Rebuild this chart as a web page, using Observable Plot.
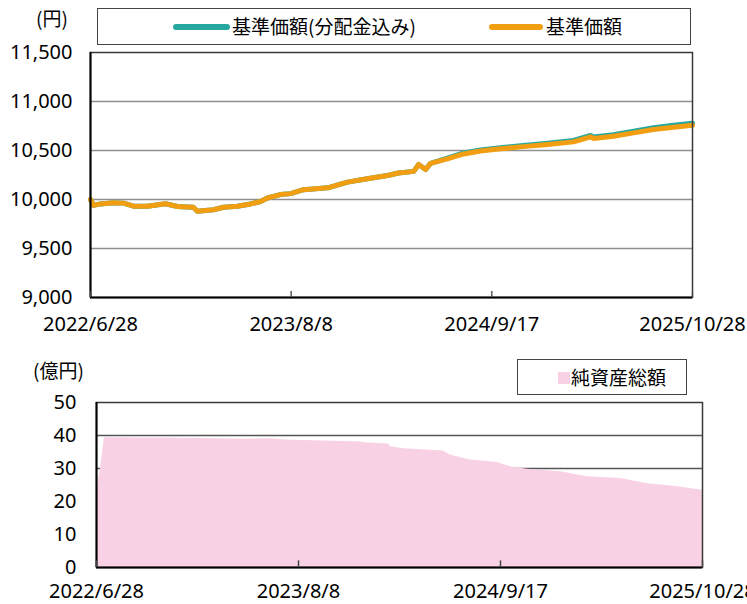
<!DOCTYPE html>
<html>
<head>
<meta charset="utf-8">
<script src="https://cdn.jsdelivr.net/npm/d3@7"></script>
<script src="https://cdn.jsdelivr.net/npm/@observablehq/plot@0.6"></script>
<style>
  html, body { margin: 0; padding: 0; background: #fff; overflow: hidden; }
  #wrap { position: relative; width: 747px; height: 604px; font-family: "Noto Sans", "Noto Sans CJK JP", sans-serif; color: #000; }
  .abs { position: absolute; }
  .lbl { position: absolute; font-size: 19px; line-height: 22px; white-space: nowrap; font-family: "Noto Sans CJK JP", "Noto Sans", sans-serif; }
  .box { position: absolute; border: 1px solid #444; background: #fff; box-sizing: border-box; }
  svg { position: absolute; left: 0; overflow: visible; }
</style>
</head>
<body>
<div id="wrap"></div>
<script>
// ---- data ----
const navDates = ["2022-06-28","2022-07-04","2022-07-18","2022-08-14","2022-09-03","2022-09-23","2022-10-21","2022-11-27","2022-12-21","2023-01-22","2023-01-30","2023-03-04","2023-03-24","2023-04-21","2023-05-18","2023-06-07","2023-06-21","2023-07-17","2023-08-07","2023-09-02","2023-10-21","2023-11-30","2024-01-09","2024-02-19","2024-03-12","2024-04-12","2024-04-22","2024-05-06","2024-05-16","2024-06-19","2024-07-22","2024-08-25","2024-10-05","2024-11-14","2025-01-08","2025-03-01","2025-04-05","2025-04-11","2025-05-21","2025-07-01","2025-08-10","2025-09-20","2025-10-28"];
const navValues = [10000,9940,9955,9966,9963,9932,9932,9956,9929,9921,9881,9895,9921,9932,9955,9980,10015,10050,10060,10100,10119,10177,10211,10245,10270,10287,10357,10306,10368,10415,10465,10494,10517,10537,10561,10588,10639,10622,10646,10680,10714,10738,10758];
const navReinvValues = [10000,9940,9955,9966,9963,9932,9932,9956,9929,9921,9881,9895,9921,9932,9955,9980,10015,10050,10060,10100,10119,10177,10211,10245,10270,10287,10357,10306,10368,10422,10475,10505,10528,10549,10574,10602,10654,10637,10662,10697,10732,10757,10778];

const aumDates = ["2022-06-28","2022-07-06","2022-07-14","2022-12-14","2023-04-27","2023-06-13","2023-07-13","2023-12-11","2023-12-17","2024-02-05","2024-02-09","2024-03-06","2024-05-25","2024-06-08","2024-07-18","2024-09-11","2024-10-07","2024-11-10","2025-01-16","2025-03-11","2025-05-16","2025-07-10","2025-08-31","2025-10-28"];
const aumValues = [23.2,30.0,39.3,39.2,38.9,39.0,38.6,38.0,37.8,37.4,36.6,36.0,35.3,34.1,32.6,31.8,30.5,29.8,29.0,27.5,27.0,25.4,24.6,23.4];

const xTickLabels = ["2022-06-28","2023-08-08","2024-09-17","2025-10-28"];
const yTicksTop = [9000,9500,10000,10500,11000,11500];
const yTicksBottom = [0,10,20,30,40,50];

const seriesNames = ["基準価額(分配金込み)","基準価額"];
const aumName = "純資産総額";

// ---- styles ----
const teal = "#27a89f";
const orange = "#f29e12";
const pink = "#f8d1e4";

const parse = s => new Date(s + "T00:00:00Z");
const xTicks = xTickLabels.map(parse);
const fmtDate = d => `${d.getUTCFullYear()}/${d.getUTCMonth()+1}/${d.getUTCDate()}`;
const navRows = navDates.map((d,i) => ({date: parse(d), nav: navValues[i], reinv: navReinvValues[i]}));
const aumRows = aumDates.map((d,i) => ({date: parse(d), aum: aumValues[i]}));
const xDomain = [xTicks[0], xTicks[xTicks.length-1]];

const baseStyle = {fontFamily: "'Noto Sans', sans-serif", fontSize: "20px", color: "#000", background: "transparent", overflow: "visible"};

const topChart = Plot.plot({
  width: 747, height: 340,
  marginTop: 52, marginBottom: 43, marginLeft: 90, marginRight: 55,
  style: baseStyle,
  x: {type: "utc", domain: xDomain},
  y: {domain: [9000, 11500]},
  marks: [
    Plot.ruleY(yTicksTop.slice(1, -1), {stroke: "#8f8f8f", strokeWidth: 1.4}),
    Plot.line(navRows, {x: "date", y: "reinv", stroke: teal, strokeWidth: 5, strokeLinejoin: "round"}),
    Plot.line(navRows, {x: "date", y: "nav", stroke: orange, strokeWidth: 5, strokeLinejoin: "round"}),
    Plot.frame({stroke: "#3a3a3a", strokeWidth: 1.5}),
    Plot.ruleX([xDomain[0]], {stroke: "#000", strokeWidth: 2}),
    Plot.ruleY([9000], {stroke: "#000", strokeWidth: 2}),
    Plot.ruleX(xTicks, {y1: 9000, y2: 9060, stroke: "#444", strokeWidth: 1.3}),
    Plot.axisX({ticks: xTicks, tickFormat: fmtDate, tickSize: 0, tickPadding: 19, label: null}),
    Plot.axisY({ticks: yTicksTop, tickFormat: d3.format(","), tickSize: 0, tickPadding: 18, label: null})
  ]
});
topChart.style.top = "0px";

const bottomChart = Plot.plot({
  width: 747, height: 264,
  marginTop: 62, marginBottom: 37, marginLeft: 96, marginRight: 45,
  style: baseStyle,
  x: {type: "utc", domain: xDomain},
  y: {domain: [0, 50]},
  marks: [
    Plot.ruleY(yTicksBottom.slice(1, -1), {stroke: "#555", strokeWidth: 1.4}),
    Plot.areaY(aumRows, {x: "date", y: "aum", fill: pink}),
    Plot.frame({stroke: "#3a3a3a", strokeWidth: 1.5}),
    Plot.ruleX([xDomain[0]], {stroke: "#000", strokeWidth: 2}),
    Plot.ruleY([0], {stroke: "#000", strokeWidth: 2}),
    Plot.ruleX(xTicks, {y1: 0, y2: 2, stroke: "#444", strokeWidth: 1.5}),
    Plot.axisX({ticks: xTicks, tickFormat: fmtDate, tickSize: 0, tickPadding: 16, label: null}),
    Plot.axisY({ticks: yTicksBottom, tickSize: 0, tickPadding: 20, label: null})
  ]
});
bottomChart.style.top = "340px";

const wrap = document.getElementById("wrap");
wrap.appendChild(topChart);
wrap.appendChild(bottomChart);

function el(tag, cls, css, text) {
  const e = document.createElement(tag);
  if (cls) e.className = cls;
  Object.assign(e.style, css);
  if (text != null) e.textContent = text;
  return e;
}

// unit labels
wrap.appendChild(el("div", "lbl", {left: "36px", top: "7px"}, "(円)"));
wrap.appendChild(el("div", "lbl", {left: "33px", top: "359px"}, "(億円)"));

// top legend
const lg1 = el("div", "box", {left: "97px", top: "8px", width: "594px", height: "37px"});
lg1.appendChild(el("div", "abs", {left: "75px", top: "15px", width: "57px", height: "6px", borderRadius: "3px", background: teal}));
lg1.appendChild(el("div", "lbl", {left: "134px", top: "6px"}, seriesNames[0]));
lg1.appendChild(el("div", "abs", {left: "391px", top: "15px", width: "54px", height: "6px", borderRadius: "3px", background: orange}));
lg1.appendChild(el("div", "lbl", {left: "448px", top: "6px"}, seriesNames[1]));
wrap.appendChild(lg1);

// bottom legend
const lg2 = el("div", "box", {left: "517px", top: "359px", width: "170px", height: "36px"});
lg2.appendChild(el("div", "abs", {left: "40px", top: "12px", width: "12px", height: "12px", background: pink}));
lg2.appendChild(el("div", "lbl", {left: "53px", top: "6px"}, aumName));
wrap.appendChild(lg2);
</script>
</body>
</html>
